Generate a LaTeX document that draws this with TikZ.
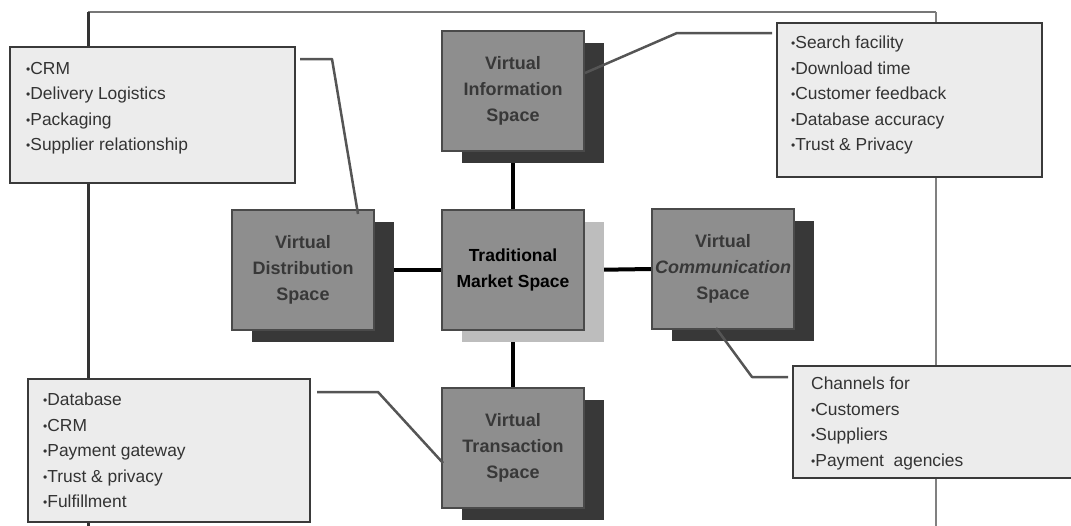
\documentclass[tikz,border=0pt]{standalone}
\usepackage{fontspec}
\setmainfont{Liberation Sans}
\usetikzlibrary{shadows}
\pgfdeclarelayer{background}
\pgfsetlayers{background,main}
\definecolor{spacefill}{HTML}{8E8E8E}
\definecolor{spaceedge}{HTML}{4A4A4A}
\definecolor{darkshadow}{HTML}{383838}
\definecolor{lightshadow}{HTML}{BDBDBD}
\definecolor{listfill}{HTML}{ECECEC}
\definecolor{listedge}{HTML}{3A3A3A}
\definecolor{labelgray}{HTML}{383838}
\definecolor{textgray}{HTML}{333333}
\definecolor{calloutgray}{HTML}{555555}
\definecolor{frameleft}{HTML}{333333}
\definecolor{frametop}{HTML}{777777}
\definecolor{frameright}{HTML}{808080}
\newcommand\bul{\raisebox{1.3pt}{\fontsize{12}{12}\selectfont\textbullet}}
\begin{document}
\begin{tikzpicture}[x=1pt,y=-1pt,
  spacebox/.style={draw=spaceedge, line width=1.5pt, fill=spacefill,
    minimum width=142pt, minimum height=120pt, inner xsep=0pt, align=center,
    font=\bfseries\fontsize{18}{26}\selectfont, text=labelgray,
    drop shadow={fill=darkshadow, opacity=1, shadow xshift=20pt, shadow yshift=-12pt}},
  tradbox/.style={spacebox, text=black, font=\bfseries\fontsize{17.5}{26}\selectfont,
    drop shadow={fill=lightshadow, opacity=1, shadow xshift=20pt, shadow yshift=-12pt}},
  listbox/.style={draw=listedge, line width=2pt, fill=listfill, inner sep=0pt},
  listtext/.style={anchor=north west, inner sep=0pt, align=left, text=textgray,
    font=\fontsize{17.4}{25.5}\selectfont},
  link/.style={draw=black, line width=4pt},
  frameline/.style={draw=#1, line width=2.5pt},
  callout/.style={draw=calloutgray, line width=2.5pt, line join=round}
]
\useasboundingbox (0,0) rectangle (1071,525);
\clip (0,0) rectangle (1071,525);

% central boxes
\node[spacebox] (info)  at (513,91)  {Virtual\\Information\\Space};
\node[spacebox] (dist)  at (303,270) {Virtual\\Distribution\\Space};
\node[tradbox]  (trad)  at (513,270) {Traditional\\Market Space};
\node[spacebox] (comm)  at (723,269) {Virtual\\\textit{Communication}\\Space};
\node[spacebox] (trans) at (513,448) {Virtual\\Transaction\\Space};

% frame coordinates
\coordinate (ftl) at (88,12);
\coordinate (ftr) at (936,12);
\coordinate (fbl) at (88,527);
\coordinate (fbr) at (936,527);

\begin{pgfonlayer}{background}
  \draw[frameline=frametop] (ftl) -- (ftr);
  \draw[frameline=frameleft, line width=3pt] (ftl) -- (fbl);
  \draw[frameline=frameright] (ftr) -- (fbr);
  \draw[link] (info.south) -- (trad.north);
  \draw[link] (trad.south) -- (trans.north);
  \draw[link] (dist.east) -- (trad.west);
  \draw[link] (trad.east) -- (comm.west);
\end{pgfonlayer}

% list boxes
\node[listbox, minimum width=285pt, minimum height=136pt] (tlbox) at (152.5,115) {};
\node[listbox, minimum width=265pt, minimum height=154pt] (trbox) at (909.5,100) {};
\node[listbox, minimum width=282pt, minimum height=143pt] (blbox) at (169,450.5) {};
\node[listbox, minimum width=292pt, minimum height=112pt] (brbox) at (939,422) {};

\node[listtext] (tltext) at (26,62) {\bul CRM\\\bul Delivery Logistics\\\bul Packaging\\\bul Supplier relationship};
\node[listtext] (trtext) at (791,36) {\bul Search facility\\\bul Download time\\\bul Customer feedback\\\bul Database accuracy\\\bul Trust \& Privacy};
\node[listtext] (bltext) at (43,393) {\bul Database\\\bul CRM\\\bul Payment gateway\\\bul Trust \& privacy\\\bul Fulfillment};
\node[listtext] (brtext) at (811,377) {Channels for\\\bul Customers\\\bul Suppliers\\\bul Payment\ \ agencies};

% callout connectors
\coordinate (tla) at (300,59);
\coordinate (tlb) at (332,59);
\coordinate (tlc) at (358,214);
\draw[callout] (tla) -- (tlb) -- (tlc);

\coordinate (tra) at (772,33);
\coordinate (trb) at (677,33);
\coordinate (trc) at (585,73);
\draw[callout] (tra) -- (trb) -- (trc);

\coordinate (bla) at (317,392);
\coordinate (blb) at (378,392);
\coordinate (blc) at (443,463);
\draw[callout] (bla) -- (blb) -- (blc);

\coordinate (bra) at (788,377);
\coordinate (brb) at (752,377);
\coordinate (brc) at (716,328);
\draw[callout] (bra) -- (brb) -- (brc);
\end{tikzpicture}
\end{document}
